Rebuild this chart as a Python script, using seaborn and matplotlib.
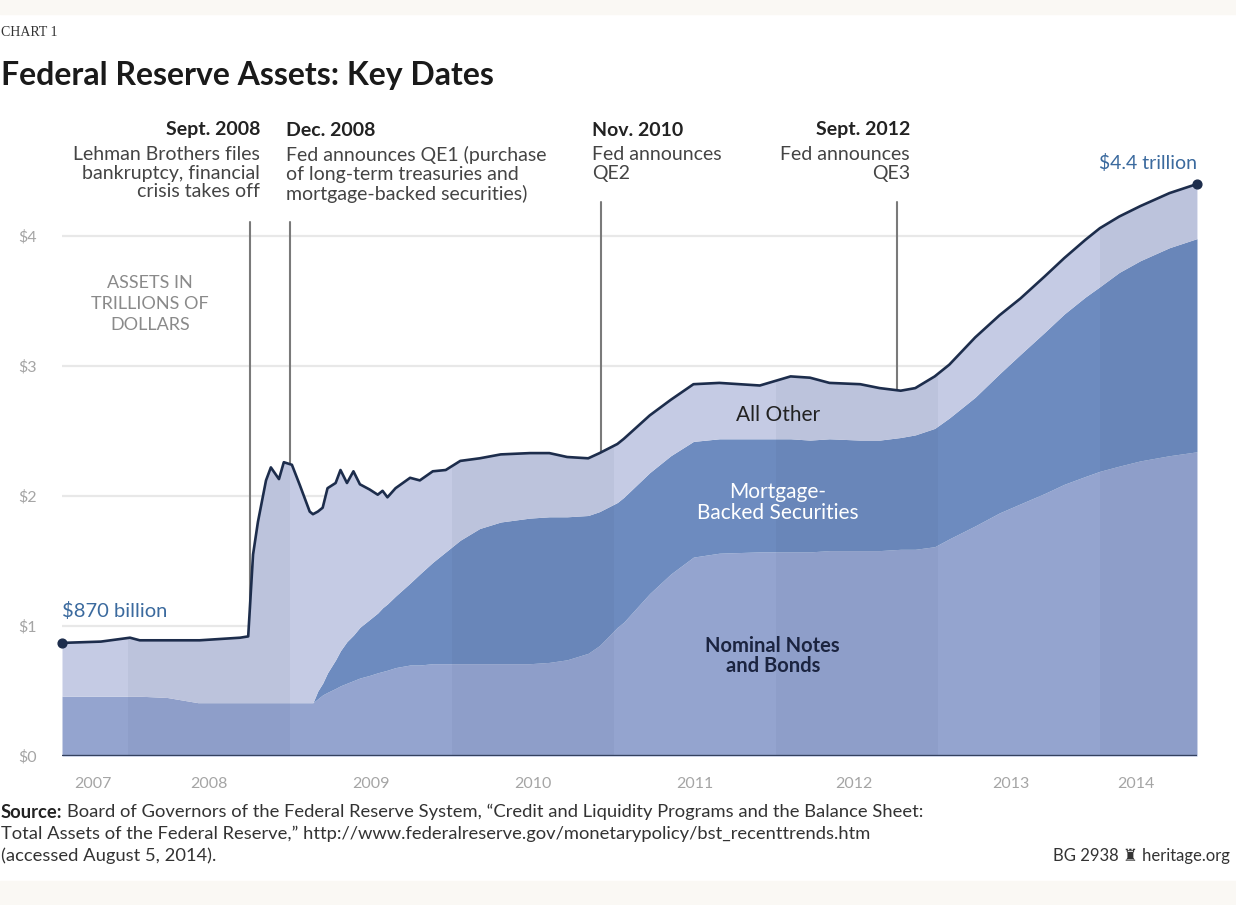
import numpy as np
import matplotlib.pyplot as plt
import seaborn as sns
import pandas as pd
from matplotlib.patches import Rectangle

# Fechas en años decimales (ago 2007 - jul 2014)
years = [2007.59, 2007.83, 2008.01, 2008.07, 2008.24, 2008.43, 2008.44, 2008.69,
         2008.74, 2008.77, 2008.80, 2008.85, 2008.88, 2008.93, 2008.96, 2009.01,
         2009.06, 2009.12, 2009.14, 2009.17, 2009.20, 2009.23, 2009.28, 2009.31,
         2009.35, 2009.39, 2009.43, 2009.49, 2009.54, 2009.57, 2009.60, 2009.65,
         2009.74, 2009.80, 2009.88, 2009.96, 2010.05, 2010.17, 2010.30, 2010.48,
         2010.60, 2010.71, 2010.84, 2010.91, 2011.02, 2011.06, 2011.22, 2011.35,
         2011.49, 2011.65, 2011.90, 2012.09, 2012.21, 2012.33, 2012.52, 2012.64,
         2012.77, 2012.86, 2012.98, 2013.07, 2013.23, 2013.38, 2013.51, 2013.66,
         2013.78, 2013.91, 2014.00, 2014.12, 2014.25, 2014.43, 2014.60]

# Activos totales (billones de USD)
total_assets = [0.87, 0.88, 0.91, 0.89, 0.89, 0.89, 0.89, 0.91,
                0.92, 1.55, 1.80, 2.12, 2.22, 2.13, 2.26, 2.24,
                2.08, 1.88, 1.86, 1.88, 1.91, 2.06, 2.10, 2.20,
                2.10, 2.19, 2.09, 2.05, 2.01, 2.04, 1.99, 2.06,
                2.14, 2.12, 2.19, 2.20, 2.27, 2.29, 2.32, 2.33,
                2.33, 2.30, 2.29, 2.33, 2.40, 2.44, 2.62, 2.74,
                2.86, 2.87, 2.85, 2.92, 2.91, 2.87, 2.86, 2.83,
                2.81, 2.83, 2.92, 3.01, 3.22, 3.39, 3.52, 3.69,
                3.83, 3.97, 4.06, 4.15, 4.23, 4.33, 4.40]

# Tope de la capa "Nominal Notes and Bonds"
notes_bonds = [0.46, 0.46, 0.46, 0.46, 0.45, 0.41, 0.41, 0.41,
               0.41, 0.41, 0.41, 0.41, 0.41, 0.41, 0.41, 0.41,
               0.41, 0.41, 0.41, 0.44, 0.47, 0.49, 0.52, 0.54,
               0.56, 0.58, 0.60, 0.62, 0.64, 0.65, 0.66, 0.68,
               0.70, 0.70, 0.71, 0.71, 0.71, 0.71, 0.71, 0.71,
               0.72, 0.74, 0.79, 0.85, 0.99, 1.03, 1.25, 1.40,
               1.53, 1.56, 1.57, 1.57, 1.57, 1.58, 1.58, 1.58,
               1.59, 1.59, 1.61, 1.67, 1.77, 1.87, 1.94, 2.02,
               2.09, 2.15, 2.19, 2.23, 2.27, 2.31, 2.34]

# Tope de la capa "Mortgage-Backed Securities" (acumulado)
notes_plus_mbs = [0.46, 0.46, 0.46, 0.46, 0.45, 0.41, 0.41, 0.41,
                  0.41, 0.41, 0.41, 0.41, 0.41, 0.41, 0.41, 0.41,
                  0.41, 0.41, 0.41, 0.50, 0.56, 0.64, 0.74, 0.81,
                  0.88, 0.93, 0.99, 1.05, 1.10, 1.14, 1.17, 1.23,
                  1.33, 1.40, 1.49, 1.57, 1.66, 1.75, 1.80, 1.83,
                  1.84, 1.84, 1.85, 1.88, 1.95, 1.99, 2.18, 2.31,
                  2.42, 2.44, 2.44, 2.44, 2.43, 2.44, 2.43, 2.43,
                  2.45, 2.47, 2.52, 2.60, 2.76, 2.94, 3.09, 3.26,
                  3.40, 3.53, 3.61, 3.72, 3.81, 3.91, 3.98]

year_labels = ['2007', '2008', '2009', '2010', '2011', '2012', '2013', '2014']
year_label_pos = [2007.78, 2008.5, 2009.5, 2010.5, 2011.5, 2012.48, 2013.45, 2014.22]
shaded_years = [2008, 2010, 2012, 2014]
event_dates = [2008.75, 2009.00, 2010.92, 2012.75]

W, H = 1236, 905


def fx(px):
    return px / W


def fy(py):
    return 1 - py / H


sns.set_theme(style="white")
plt.rcParams['font.family'] = ['Lato', 'DejaVu Sans']

df = pd.DataFrame({'year': years, 'total': total_assets,
                   'notes': notes_bonds, 'notes_mbs': notes_plus_mbs})

fig = plt.figure(figsize=(W / 100, H / 100), dpi=100, facecolor='white')
ax = fig.add_axes([fx(62), fy(756), fx(1197) - fx(62), (4.6 * 130) / H])

# Franjas claras arriba y abajo
fig.add_artist(Rectangle((0, fy(14)), 1, 14 / H, transform=fig.transFigure,
                         color='#faf8f4', zorder=0))
fig.add_artist(Rectangle((0, 0), 1, 24 / H, transform=fig.transFigure,
                         color='#faf8f4', zorder=0))

# Cuadrícula
for v in [1, 2, 3, 4]:
    ax.axhline(v, color='#e8e8e8', lw=1.6, zorder=0)

# Capas apiladas
ax.fill_between(df['year'], 0, df['notes'], color='#94a4cf', lw=0, zorder=1)
ax.fill_between(df['year'], df['notes'], df['notes_mbs'], color='#6d8bbf', lw=0, zorder=1)
ax.fill_between(df['year'], df['notes_mbs'], df['total'], color='#c5cbe4', lw=0, zorder=1)
whole = ax.fill_between(df['year'], 0, df['total'], color='none', lw=0, zorder=1)

# Bandas alternas por año, recortadas al área
clip = whole.get_paths()[0]
for yr in shaded_years:
    span = ax.axvspan(yr, yr + 1, color='#1f2f5a', alpha=0.05, lw=0, zorder=2)
    span.set_clip_path(clip, ax.transData)

# Línea del total
sns.lineplot(data=df, x='year', y='total', color='#1d2d4c', lw=1.9, ax=ax, zorder=4)
ax.scatter([years[0], years[-1]], [total_assets[0], total_assets[-1]],
           s=40, color='#1d2d4c', zorder=6, clip_on=False)

# Línea base
ax.axhline(0, color='#34415e', lw=2.4, zorder=5)

# Líneas de eventos
for ev, top in zip(event_dates, [4.11, 4.11, 4.26, 4.26]):
    bottom = np.interp(ev, years, total_assets)
    ax.plot([ev, ev], [bottom, top], color='#7a7a7a', lw=1.5, zorder=3)

ax.set_xlim(years[0], years[-1])
ax.set_ylim(0, 4.6)
for s in ax.spines.values():
    s.set_visible(False)
ax.set_xlabel('')
ax.set_ylabel('')
ax.set_yticks([0, 1, 2, 3, 4])
ax.set_yticklabels(['$0', '$1', '$2', '$3', '$4'])
ax.set_xticks(year_label_pos)
ax.set_xticklabels(year_labels)
ax.tick_params(axis='y', length=0, pad=18, labelsize=11.5, labelcolor='#a5a5a5')
ax.tick_params(axis='x', length=0, pad=15, labelsize=11.5, labelcolor='#a5a5a5')

# Etiquetas de las series
ax.text(2012.01, 2.62, 'All Other', ha='center', va='center', fontsize=15, color='#222222', zorder=7)
ax.text(2012.01, 1.95, 'Mortgage-\nBacked Securities', ha='center', va='center',
        fontsize=15, color='white', linespacing=1.05, zorder=7)
ax.text(2011.98, 0.77, 'Nominal Notes\nand Bonds', ha='center', va='center',
        fontsize=14.5, color='#1b2440', fontweight='bold', linespacing=1.05, zorder=7)

# Valores inicial y final
fig.text(fx(62), fy(611), '$870 billion', ha='left', va='center', fontsize=14.5, color='#3b6a9e')
fig.text(fx(1197), fy(163), '$4.4 trillion', ha='right', va='center', fontsize=14, color='#3b6a9e')

fig.text(fx(150), fy(304), 'ASSETS IN\nTRILLIONS OF\nDOLLARS', ha='center', va='center',
         fontsize=13, color='#8a8a8a', linespacing=1.35)

# Anotaciones de eventos
ann_title = dict(fontsize=14, fontweight='bold', color='#222222', va='center')
ann_body = dict(fontsize=14, color='#444444', va='top', linespacing=1.12)
fig.text(fx(260), fy(130), 'Sept. 2008', ha='right', **ann_title)
fig.text(fx(260), fy(146), 'Lehman Brothers files\nbankruptcy, financial\ncrisis takes off', ha='right', **ann_body)
fig.text(fx(286), fy(130), 'Dec. 2008', ha='left', **ann_title)
fig.text(fx(286), fy(146), 'Fed announces QE1 (purchase\nof long-term treasuries and\nmortgage-backed securities)', ha='left', **ann_body)
fig.text(fx(592), fy(130), 'Nov. 2010', ha='left', **ann_title)
fig.text(fx(592), fy(146), 'Fed announces\nQE2', ha='left', **ann_body)
fig.text(fx(910), fy(130), 'Sept. 2012', ha='right', **ann_title)
fig.text(fx(910), fy(146), 'Fed announces\nQE3', ha='right', **ann_body)

# Encabezado
fig.text(fx(1), fy(32), 'CHART 1', ha='left', va='center', fontsize=10,
         color='#333333', family='Liberation Serif')
fig.text(fx(1), fy(76), 'Federal Reserve Assets: Key Dates', ha='left', va='center',
         fontsize=23, fontweight='bold', color='#1a1a1a')

# Fuente
fig.canvas.draw()
src_bold = fig.text(fx(1), fy(812), 'Source:', ha='left', va='center', fontsize=13.2,
                    fontweight='bold', color='#222222')
bb = src_bold.get_window_extent(renderer=fig.canvas.get_renderer())
fig.text(bb.x1 / W + 4 / W, fy(812),
         'Board of Governors of the Federal Reserve System, \u201cCredit and Liquidity Programs and the Balance Sheet:',
         ha='left', va='center', fontsize=13.2, color='#333333')
fig.text(fx(1), fy(834),
         'Total Assets of the Federal Reserve,\u201d http://www.federalreserve.gov/monetarypolicy/bst_recenttrends.htm',
         ha='left', va='center', fontsize=13.2, color='#333333')
fig.text(fx(1), fy(856), '(accessed August 5, 2014).', ha='left', va='center', fontsize=13.2, color='#333333')
fig.text(fx(1230), fy(856), 'BG 2938 \u265c heritage.org', ha='right', va='center', fontsize=12,
         color='#333333', family=['Lato', 'DejaVu Sans'])

fig.savefig('out.png', dpi=100, facecolor='white')
